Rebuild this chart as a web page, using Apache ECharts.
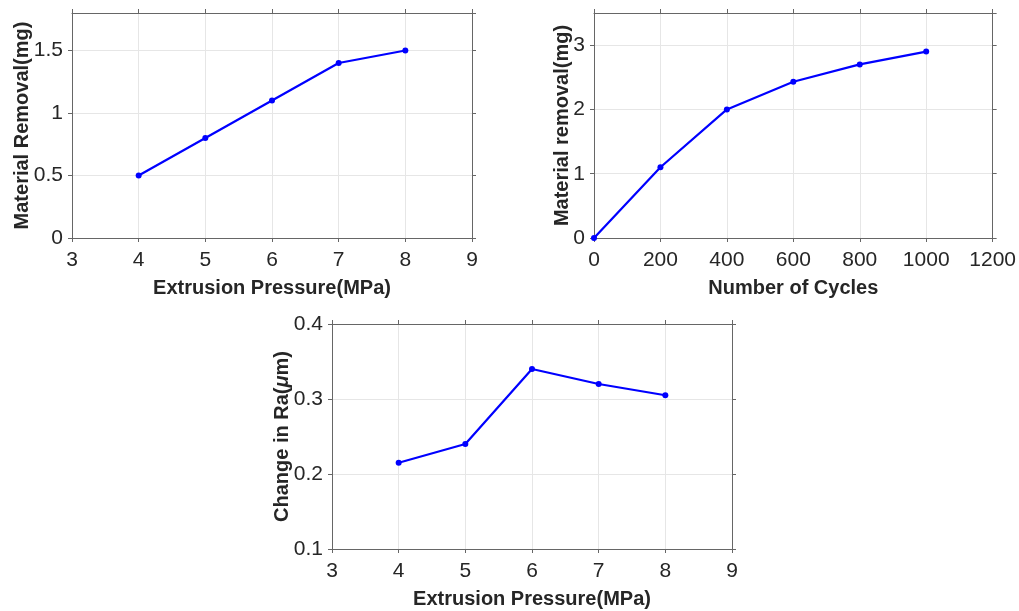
<!DOCTYPE html>
<html>
<head>
<meta charset="utf-8">
<script src="https://cdn.jsdelivr.net/npm/echarts@6/dist/echarts.min.js"></script>
<style>html,body{margin:0;padding:0;background:#fff}#c{width:1019px;height:611px}</style>
</head>
<body>
<div id="c"></div>
<script>
// Chart 1: Material removal vs extrusion pressure
const pressure1 = [4, 5, 6, 7, 8];
const removal1 = [0.5, 0.8, 1.1, 1.4, 1.5];
// Chart 2: Material removal vs number of cycles
const cycles = [0, 200, 400, 600, 800, 1000];
const removal2 = [0, 1.1, 2.0, 2.43, 2.7, 2.9];
// Chart 3: Change in Ra vs extrusion pressure
const pressure3 = [4, 5, 6, 7, 8];
const raChange = [0.215, 0.24, 0.34, 0.32, 0.305];

const axisColor = '#666';
const labelColor = '#262626';
const font = 'Liberation Sans, Arial, Helvetica, sans-serif';
const titleSize = 20;
const tickSize = 21;

function mainX(gi, min, max, interval, name) {
  return {
    type: 'value', gridIndex: gi, min, max, interval, position: 'bottom',
    name, nameLocation: 'middle', nameGap: 40, nameMoveOverlap: false,
    nameTextStyle: {fontFamily: font, fontWeight: 'bold', fontSize: titleSize, color: labelColor},
    axisLine: {show: true, lineStyle: {color: axisColor, width: 1}},
    axisTick: {show: true, inside: false, length: 4, lineStyle: {color: axisColor}},
    axisLabel: {fontFamily: font, fontSize: tickSize, color: labelColor, margin: 12,
      formatter: v => String(Math.round(v * 1000) / 1000)},
    splitLine: {show: true, lineStyle: {color: '#e6e6e6', width: 1}}
  };
}
function topX(gi, min, max, interval) {
  return {
    type: 'value', gridIndex: gi, min, max, interval, position: 'top',
    axisLine: {show: true, onZero: false, lineStyle: {color: axisColor, width: 1}},
    axisTick: {show: true, inside: false, length: 4, lineStyle: {color: axisColor}},
    axisLabel: {show: false}, splitLine: {show: false}
  };
}
function mainY(gi, min, max, interval, name, gap, rich) {
  const o = {
    type: 'value', gridIndex: gi, min, max, interval, position: 'left',
    name, nameLocation: 'middle', nameGap: gap, nameRotate: 90, nameMoveOverlap: false,
    nameTextStyle: {fontFamily: font, fontWeight: 'bold', fontSize: titleSize, color: labelColor},
    axisLine: {show: true, onZero: false, lineStyle: {color: axisColor, width: 1}},
    axisTick: {show: true, inside: false, length: 4, lineStyle: {color: axisColor}},
    axisLabel: {fontFamily: font, fontSize: tickSize, color: labelColor, margin: 9, showMaxLabel: false,
      formatter: v => String(Math.round(v * 1000) / 1000)},
    splitLine: {show: true, lineStyle: {color: '#e6e6e6', width: 1}}
  };
  if (rich) o.nameTextStyle.rich = rich;
  return o;
}
function rightY(gi, min, max, interval) {
  return {
    type: 'value', gridIndex: gi, min, max, interval, position: 'right',
    axisLine: {show: true, onZero: false, lineStyle: {color: axisColor, width: 1}},
    axisTick: {show: true, inside: false, length: 4, lineStyle: {color: axisColor}},
    axisLabel: {show: false}, splitLine: {show: false}
  };
}
function lineSeries(xi, yi, xs, ys) {
  return {
    type: 'line', xAxisIndex: xi, yAxisIndex: yi,
    data: xs.map((x, i) => [x, ys[i]]),
    symbol: 'circle', symbolSize: 6, showSymbol: true,
    lineStyle: {color: '#0000ff', width: 2.2},
    itemStyle: {color: '#0000ff'},
    animation: false
  };
}

const y3 = mainY(2, 0.1, 0.4, 0.1, '{b|Change in Ra(}{i|μ}{b|m)}', 40, {
  b: {fontFamily: font, fontWeight: 'bold', fontSize: titleSize, color: labelColor},
  i: {fontFamily: font, fontStyle: 'italic', fontSize: titleSize, color: labelColor}
});
y3.axisLabel.showMaxLabel = true;

const option = {
  animation: false,
  backgroundColor: '#fff',
  grid: [
    {left: 72, top: 13, width: 400, height: 225},
    {left: 594, top: 13, width: 399, height: 225},
    {left: 332, top: 324, width: 400, height: 225}
  ],
  xAxis: [
    mainX(0, 3, 9, 1, 'Extrusion Pressure(MPa)'),
    mainX(1, 0, 1200, 200, 'Number of Cycles'),
    mainX(2, 3, 9, 1, 'Extrusion Pressure(MPa)'),
    topX(0, 3, 9, 1),
    topX(1, 0, 1200, 200),
    topX(2, 3, 9, 1)
  ],
  yAxis: [
    mainY(0, 0, 1.8, 0.5, 'Material Removal(mg)', 40),
    mainY(1, 0, 3.5, 1, 'Material removal(mg)', 22),
    y3,
    rightY(0, 0, 1.8, 0.5),
    rightY(1, 0, 3.5, 1),
    rightY(2, 0.1, 0.4, 0.1)
  ],
  series: [
    lineSeries(0, 0, pressure1, removal1),
    lineSeries(1, 1, cycles, removal2),
    lineSeries(2, 2, pressure3, raChange)
  ]
};
const chart = echarts.init(document.getElementById('c'), null, {renderer: 'canvas'});
chart.setOption(option);
</script>
</body>
</html>
